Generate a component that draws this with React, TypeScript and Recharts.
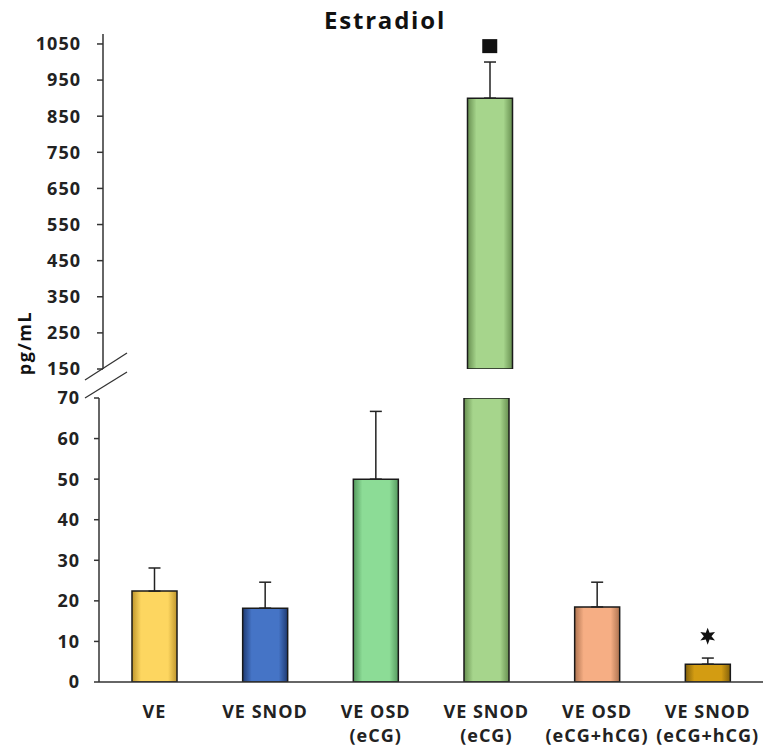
import React from 'react';
import { BarChart, Bar, XAxis, YAxis, ErrorBar, Cell, ReferenceDot } from 'recharts';

const labelLine1 = ['VE', 'VE SNOD', 'VE OSD', 'VE SNOD', 'VE OSD', 'VE SNOD'];
const labelLine2 = ['', '', '(eCG)', '(eCG)', '(eCG+hCG)', '(eCG+hCG)'];
const means = [22.4, 18.2, 50.0, 900, 18.5, 4.4];
const sems = [5.7, 6.4, 16.7, 100, 6.1, 1.5];
const lowerTicks = [0, 10, 20, 30, 40, 50, 60, 70];
const upperTicks = [150, 250, 350, 450, 550, 650, 750, 850, 950, 1050];
const markerValues = [null, null, null, 1044, null, 11.3];
const markerKinds = ['', '', '', 'square', '', 'star'];

const lightColors = ['#FDD660', '#4574C6', '#8CDC96', '#A6D58C', '#F6AE84', '#D39C12'];
const darkColors = ['#BE952C', '#1F3A72', '#559A5E', '#678F50', '#AE7350', '#82600A'];

const LOWER_MAX = 70;
const UPPER_MIN = 150;
const FONT = '"Open Sans", sans-serif';

const keys = labelLine1.map((l, i) => `${l}|${labelLine2[i]}`);

const lowerData = keys.map((k, i) => ({
  key: k,
  value: Math.min(means[i], LOWER_MAX),
  err: means[i] <= LOWER_MAX ? [0, sems[i]] : null,
}));

const upperData = keys.map((k, i) => ({
  key: k,
  value: means[i] > LOWER_MAX ? means[i] : null,
  err: means[i] > LOWER_MAX ? [0, sems[i]] : null,
}));

const Gradients = () => (
  <defs>
    {lightColors.map((c, i) => (
      <linearGradient key={i} id={`bar-grad-${i}`} x1="0" y1="0" x2="1" y2="0">
        <stop offset="0%" stopColor={darkColors[i]} />
        <stop offset="20%" stopColor={c} />
        <stop offset="80%" stopColor={c} />
        <stop offset="100%" stopColor={darkColors[i]} />
      </linearGradient>
    ))}
  </defs>
);

const tickStyle = { fontFamily: FONT, fontWeight: 700, fontSize: 18, fill: '#222', letterSpacing: 1 };

const XTick = (props: any) => {
  const { x, y, payload } = props;
  const [l1, l2] = String(payload.value).split('|');
  return (
    <g transform={`translate(${x},${y})`}>
      <text textAnchor="middle" style={tickStyle}>
        <tspan x={0} y={36}>{l1}</tspan>
        {l2 ? <tspan x={0} y={60}>{l2}</tspan> : null}
      </text>
    </g>
  );
};

const Square = (props: any) => {
  const { cx, cy } = props;
  return <rect x={cx - 7.5} y={cy - 7} width={15} height={14} fill="#111" />;
};

const Star = (props: any) => {
  const { cx, cy } = props;
  const pts: string[] = [];
  for (let k = 0; k < 12; k++) {
    const r = k % 2 === 0 ? 8.5 : 3.8;
    const a = (Math.PI / 6) * k - Math.PI / 2;
    pts.push(`${cx + r * Math.cos(a)},${cy + r * Math.sin(a)}`);
  }
  return <polygon points={pts.join(' ')} fill="#111" />;
};

const markerShape = (kind: string) => (kind === 'square' ? Square : Star);

export default function App() {
  return (
    <div style={{ position: 'absolute', left: 0, top: 0, width: 765, height: 753, background: '#fff' }}>
      {/* upper segment of the broken axis */}
      <div style={{ position: 'absolute', left: 0, top: 0 }}>
        <BarChart width={766} height={380} data={upperData} margin={{ top: 34, right: 0, bottom: 11, left: 0 }} barSize={45}>
          <Gradients />
          <XAxis dataKey="key" hide />
          <YAxis
            type="number"
            domain={[UPPER_MIN, 1077.6]}
            ticks={upperTicks}
            allowDataOverflow
            width={103}
            axisLine={{ stroke: '#333', strokeWidth: 1.5 }}
            tickLine={{ stroke: '#333', strokeWidth: 1.5 }}
            tickSize={6}
            tickMargin={16}
            tick={tickStyle}
          />
          <Bar dataKey="value" isAnimationActive={false} stroke="#1a1a1a" strokeWidth={1.5}>
            {upperData.map((_, i) => (
              <Cell key={i} fill={`url(#bar-grad-${i})`} />
            ))}
            <ErrorBar dataKey="err" direction="y" width={6} stroke="#222" strokeWidth={1.5} />
          </Bar>
          {keys.map((k, i) =>
            markerValues[i] != null && markerValues[i]! > LOWER_MAX ? (
              <ReferenceDot key={k} x={k} y={markerValues[i]!} shape={markerShape(markerKinds[i])} />
            ) : null
          )}
        </BarChart>
      </div>

      {/* lower segment */}
      <div style={{ position: 'absolute', left: 0, top: 378 }}>
        <BarChart width={765} height={375} data={lowerData} margin={{ top: 20, right: 2, bottom: 11, left: 0 }} barSize={45}>
          <Gradients />
          <XAxis
            dataKey="key"
            height={60}
            axisLine={{ stroke: '#333', strokeWidth: 1.5 }}
            tickLine={false}
            tickSize={0}
            tickMargin={0}
            interval={0}
            tick={<XTick />}
          />
          <YAxis
            type="number"
            domain={[0, LOWER_MAX]}
            ticks={lowerTicks}
            allowDataOverflow
            width={99}
            axisLine={{ stroke: '#333', strokeWidth: 1.5 }}
            tickLine={{ stroke: '#333', strokeWidth: 1.5 }}
            tickSize={5}
            tickMargin={14}
            tick={tickStyle}
          />
          <Bar dataKey="value" isAnimationActive={false} stroke="#1a1a1a" strokeWidth={1.5}>
            {lowerData.map((_, i) => (
              <Cell key={i} fill={`url(#bar-grad-${i})`} />
            ))}
            <ErrorBar dataKey="err" direction="y" width={6} stroke="#222" strokeWidth={1.5} />
          </Bar>
          {keys.map((k, i) =>
            markerValues[i] != null && markerValues[i]! <= LOWER_MAX ? (
              <ReferenceDot key={k} x={k} y={markerValues[i]!} shape={markerShape(markerKinds[i])} />
            ) : null
          )}
        </BarChart>
      </div>

      {/* title, axis title and break marks */}
      <svg width={765} height={753} style={{ position: 'absolute', left: 0, top: 0, pointerEvents: 'none' }}>
        <text x={385} y={29} textAnchor="middle" style={{ fontFamily: FONT, fontWeight: 700, fontSize: 24, letterSpacing: 1.8, fill: '#111' }}>
          Estradiol
        </text>
        <text
          transform="translate(31,343) rotate(-90)"
          textAnchor="middle"
          style={{ fontFamily: FONT, fontWeight: 700, fontSize: 18, letterSpacing: 1.5, fill: '#111' }}
        >
          pg/mL
        </text>
        <line x1={85} y1={380} x2={127} y2={353} stroke="#333" strokeWidth={1.3} />
        <line x1={85} y1={398} x2={127} y2={372} stroke="#333" strokeWidth={1.3} />
      </svg>
    </div>
  );
}
